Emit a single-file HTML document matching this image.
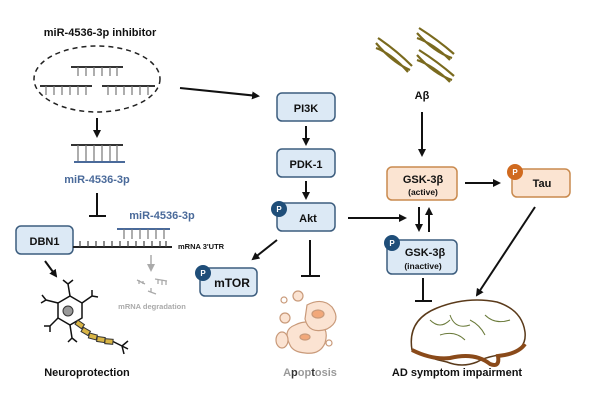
<!DOCTYPE html>
<html><head><meta charset="utf-8"><style>
body{margin:0;background:#fff;}
svg text{font-family:"Liberation Sans",Arial,sans-serif;font-weight:bold;}
</style></head><body>
<svg width="600" height="406" viewBox="0 0 600 406" xmlns="http://www.w3.org/2000/svg">
<defs>
<marker id="ah" markerWidth="8" markerHeight="8" refX="6" refY="4" orient="auto" markerUnits="userSpaceOnUse"><path d="M0,0 L8,4 L0,8 z" fill="#111"/></marker>
<marker id="ahg" markerWidth="8" markerHeight="8" refX="6" refY="4" orient="auto" markerUnits="userSpaceOnUse"><path d="M0,0 L8,4 L0,8 z" fill="#aaa"/></marker>
</defs>
<text x="100" y="36" font-size="11" text-anchor="middle" fill="#111">miR-4536-3p inhibitor</text>
<ellipse cx="97" cy="79" rx="63" ry="33" fill="none" stroke="#222" stroke-width="1.5" stroke-dasharray="5,4"/>
<g stroke="#333" stroke-width="2"><line x1="71" y1="67" x2="123" y2="67"/><line x1="40" y1="86" x2="92" y2="86"/><line x1="102" y1="86" x2="155" y2="86"/></g>
<g stroke="#777" stroke-width="1.2">
<path d="M78 67v9M86 67v9M94 67v9M102 67v9M110 67v9M117 67v9"/>
<path d="M46 86v9M54 86v9M62 86v9M70 86v9M78 86v9M86 86v9"/>
<path d="M108 86v9M116 86v9M124 86v9M132 86v9M140 86v9M148 86v9"/></g>
<line x1="180" y1="88" x2="258" y2="96" stroke="#111" stroke-width="2" marker-end="url(#ah)"/>
<line x1="97" y1="118" x2="97" y2="136" stroke="#111" stroke-width="2" marker-end="url(#ah)"/>
<line x1="71" y1="145" x2="123" y2="145" stroke="#333" stroke-width="2"/>
<line x1="74" y1="162" x2="125" y2="162" stroke="#4a6a9a" stroke-width="2"/>
<path d="M78 145v16M86 145v16M94 145v16M102 145v16M110 145v16M117 145v16" stroke="#777" stroke-width="1.2"/>
<text x="97" y="183" font-size="11" text-anchor="middle" fill="#4a6a9a">miR-4536-3p</text>
<line x1="97" y1="193" x2="97" y2="216" stroke="#111" stroke-width="2"/><line x1="89" y1="216" x2="106" y2="216" stroke="#111" stroke-width="2"/>
<rect x="16" y="226" width="57" height="28" rx="5" fill="#dce9f5" stroke="#3c5d7e" stroke-width="1.5"/>
<text x="44.5" y="245" font-size="11" text-anchor="middle" fill="#111">DBN1</text>
<line x1="73" y1="247" x2="172" y2="247" stroke="#222" stroke-width="2"/>
<path d="M80 247v-6M88 247v-6M96 247v-6M104 247v-6M112 247v-6M120 247v-6M128 247v-6M136 247v-6M144 247v-6M152 247v-6M160 247v-6M166 247v-6" stroke="#444" stroke-width="1.2"/>
<line x1="117" y1="229" x2="170" y2="229" stroke="#4a6a9a" stroke-width="2"/>
<path d="M124 229v10M132 229v10M140 229v10M148 229v10M156 229v10M164 229v10" stroke="#777" stroke-width="1.2"/>
<text x="162" y="219" font-size="11" text-anchor="middle" fill="#4a6a9a">miR-4536-3p</text>
<text x="178" y="249" font-size="7.5" fill="#111">mRNA 3'UTR</text>
<line x1="151" y1="255" x2="151" y2="270" stroke="#aaa" stroke-width="1.5" marker-end="url(#ahg)"/>
<g stroke="#aaa" stroke-width="1.3" fill="none"><path d="M137 280l8 4M139 280v4M143 281v3"/><path d="M155 279l12 2M158 279v5M162 280v5M166 281v4"/><path d="M148 291l8 3M151 292v-4"/></g>
<text x="152" y="309" font-size="7.5" text-anchor="middle" fill="#aaa">mRNA degradation</text>
<line x1="45" y1="261" x2="56" y2="276" stroke="#111" stroke-width="2" marker-end="url(#ah)"/>
<g stroke="#111" stroke-width="1.5" fill="none">
<path d="M58 303 L70 296 L82 303 L82 318 L70 325 L58 318 Z" fill="#fff"/>
<path d="M70 296 L68 284 M68 284l-5 -4 M68 284l5 -4 M58 303 L46 300 M46 300l-4-5 M46 300l-5 3 M82 303 L92 296 M92 296l0-6 M92 296l6 1 M58 318 L50 326 M50 326l-6 0 M50 326l0 6 M70 325 L72 338 M72 338l-4 4 M72 338l5 4"/>
<path d="M110 340 L122 346 M122 346l6-5 M122 346l6 3 M122 346l2 8"/>
</g>
<circle cx="68" cy="311" r="5" fill="#999" stroke="#333"/>
<g fill="#d9b545" stroke="#333" stroke-width="1"><rect x="76" y="322" width="8" height="5" transform="rotate(35 80 324)"/><rect x="82" y="329" width="8" height="5" transform="rotate(30 86 331)"/><rect x="89" y="334" width="8" height="5" transform="rotate(15 93 336)"/><rect x="97" y="337" width="8" height="5" transform="rotate(8 101 339)"/><rect x="105" y="339" width="8" height="5" transform="rotate(5 109 341)"/></g>
<text x="87" y="376" font-size="11" text-anchor="middle" fill="#111">Neuroprotection</text>
<g fill="#dce9f5" stroke="#3c5d7e" stroke-width="1.5">
<rect x="277" y="93" width="58" height="28" rx="5"/><rect x="277" y="149" width="58" height="28" rx="5"/><rect x="277" y="203" width="58" height="28" rx="5"/>
<rect x="200" y="268" width="57" height="28" rx="5"/><rect x="387" y="240" width="70" height="34" rx="5"/></g>
<g fill="#fbe4d2" stroke="#c98a4e" stroke-width="1.5"><rect x="387" y="167" width="70" height="33" rx="5"/><rect x="512" y="169" width="58" height="28" rx="5"/></g>
<text x="306" y="112" font-size="11" text-anchor="middle" fill="#111">PI3K</text>
<text x="306" y="168" font-size="11" text-anchor="middle" fill="#111">PDK-1</text>
<text x="308" y="222" font-size="11" text-anchor="middle" fill="#111">Akt</text>
<text x="232" y="287" font-size="12" text-anchor="middle" fill="#111">mTOR</text>
<text x="423" y="183" font-size="11" text-anchor="middle" fill="#111">GSK-3β</text>
<text x="423" y="195" font-size="8.5" text-anchor="middle" fill="#111">(active)</text>
<text x="425" y="256" font-size="11" text-anchor="middle" fill="#111">GSK-3β</text>
<text x="423" y="269" font-size="8.5" text-anchor="middle" fill="#111">(inactive)</text>
<text x="542" y="187" font-size="11" text-anchor="middle" fill="#111">Tau</text>
<g font-size="8" text-anchor="middle" fill="#fff"><circle cx="279" cy="209" r="8" fill="#1f4e79"/><text x="279" y="212">P</text>
<circle cx="203" cy="273" r="8" fill="#1f4e79"/><text x="203" y="276">P</text>
<circle cx="392" cy="243" r="8" fill="#1f4e79"/><text x="392" y="246">P</text>
<circle cx="515" cy="172" r="8" fill="#d06a1f"/><text x="515" y="175">P</text></g>
<g stroke="#111" stroke-width="2" fill="none">
<line x1="306" y1="126" x2="306" y2="144" marker-end="url(#ah)"/>
<line x1="306" y1="181" x2="306" y2="198" marker-end="url(#ah)"/>
<line x1="348" y1="218" x2="405" y2="218" marker-end="url(#ah)"/>
<line x1="277" y1="240" x2="253" y2="259" marker-end="url(#ah)"/>
<line x1="310" y1="240" x2="310" y2="276"/><line x1="301" y1="276" x2="320" y2="276"/>
<line x1="422" y1="112" x2="422" y2="155" marker-end="url(#ah)"/>
<line x1="419" y1="207" x2="419" y2="230" marker-end="url(#ah)"/>
<line x1="429" y1="232" x2="429" y2="209" marker-end="url(#ah)"/>
<line x1="465" y1="183" x2="499" y2="183" marker-end="url(#ah)"/>
<line x1="535" y1="207" x2="477" y2="295" marker-end="url(#ah)"/>
<line x1="423" y1="278" x2="423" y2="301"/><line x1="415" y1="301" x2="432" y2="301"/>
</g>
<g stroke="#7a6a1e" stroke-width="2.2" fill="none">
<path d="M376 43 Q392 62 410 70 M378 38 Q396 50 412 66 M376 48 Q392 54 408 72"/>
<path d="M417 33 Q434 52 452 58 M419 28 Q438 40 454 54 M417 38 Q434 44 450 60"/>
<path d="M417 55 Q434 74 452 80 M419 50 Q438 62 454 76 M417 60 Q434 66 450 82"/></g>
<text x="422" y="99" font-size="11" text-anchor="middle" fill="#111">Aβ</text>
<g stroke="#c99a7a" stroke-width="1.2">
<path d="M290 345 q-8-15 5-20 q10-5 20-2 q15 3 10 20 q-5 12-20 10 q-12-1-15-8z" fill="#fbe3d2"/>
<path d="M307 305 q15-8 25 2 q10 14-5 22 q-18 6-22-10z" fill="#fbe3d2"/>
<ellipse cx="318" cy="314" rx="6" ry="4" fill="#f2a87a"/><ellipse cx="305" cy="337" rx="5" ry="3" fill="#f2a87a"/>
<circle cx="284" cy="300" r="3" fill="#fff"/><circle cx="298" cy="296" r="5" fill="#fbe3d2"/><circle cx="285" cy="318" r="5" fill="#fbe3d2"/><circle cx="329" cy="343" r="3" fill="#fff"/>
<ellipse cx="282" cy="340" rx="6" ry="8" fill="#fbe3d2"/></g>
<text x="310" y="376" font-size="11" text-anchor="middle" fill="#999">A<tspan fill="#333">p</tspan>op<tspan fill="#333">t</tspan>osis</text>
<path d="M412 350 q-5-30 25-42 q30-12 60-6 q25 8 28 30 q2 18-18 22 q-20 2-30 8 q-15 6-30 0 q-20-4-35-12z" fill="#fff" stroke="#5a3a1a" stroke-width="1.5"/>
<path d="M412 350 q20 10 38 8 q25-6 40 6 q10 4 8-8 q20-2 27-12" fill="none" stroke="#8a4a1a" stroke-width="4"/>
<g stroke="#6a7a3a" stroke-width="1" fill="none"><path d="M430 320 q10 10 20 0 M450 315 q5 15 20 10 M470 320 q10 5 15 15 M440 335 q15-5 25 5 M485 315 q10 10 25 5"/></g>
<text x="457" y="376" font-size="11" text-anchor="middle" fill="#111">AD symptom impairment</text>
</svg>
</body></html>
